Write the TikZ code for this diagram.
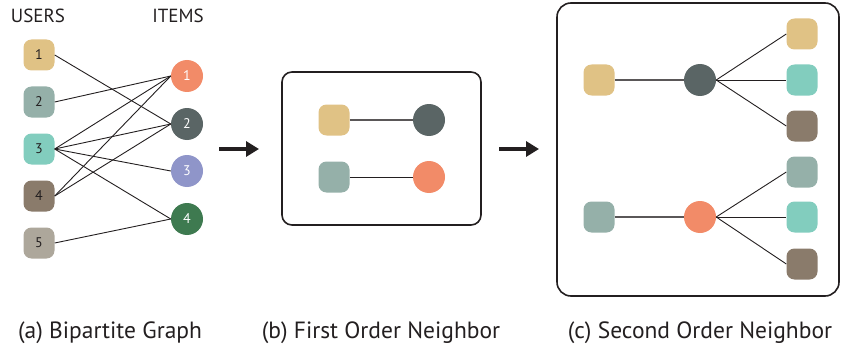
\documentclass[tikz,border=0pt]{standalone}
\usepackage{fontspec}
\setmainfont{PT Sans}
\usetikzlibrary{arrows.meta}
\definecolor{uTan}{HTML}{E0C285}
\definecolor{uSage}{HTML}{95B0A9}
\definecolor{uMint}{HTML}{82CDBE}
\definecolor{uBrown}{HTML}{8A7B6B}
\definecolor{uStone}{HTML}{ADA79B}
\definecolor{iSalmon}{HTML}{F28B68}
\definecolor{iSlate}{HTML}{5A6565}
\definecolor{iLavender}{HTML}{8F95C9}
\definecolor{iGreen}{HTML}{3E7A50}
\definecolor{ink}{HTML}{231F20}
\tikzset{
  user/.style={rectangle, rounded corners=8pt, minimum width=31pt, minimum height=31pt,
    inner sep=0pt, fill=#1, draw=none, text=ink, font=\fontsize{14}{14}\selectfont},
  item/.style={circle, minimum size=32pt, inner sep=0pt, fill=#1, draw=none,
    text=white, font=\fontsize{14}{14}\selectfont},
  edge/.style={draw=ink, line width=0.9pt},
  greyedge/.style={draw=ink!75, line width=1.3pt},
  panel/.style={draw=ink, line width=1.6pt, rounded corners=#1},
  bigarrow/.style={draw=ink, line width=4pt, -{Triangle[length=13pt,width=15pt]}},
  caption/.style={font=\fontsize{23.5}{23.5}\selectfont, text=ink, inner sep=0pt},
  heading/.style={font=\fontsize{19}{19}\selectfont, text=ink, inner sep=0pt}
}
\begin{document}
\begin{tikzpicture}[x=1pt, y=-1pt]
\useasboundingbox (0,0) rectangle (841,353);

% (a) bipartite graph
\node[heading] (uhead) at (38,16) {USERS};
\node[heading] (ihead) at (178,16) {ITEMS};
\node[user=uTan]   (u1) at (39,55)  {1};
\node[user=uSage]  (u2) at (39,102) {2};
\node[user=uMint]  (u3) at (39,149) {3};
\node[user=uBrown] (u4) at (39,196) {4};
\node[user=uStone] (u5) at (39,243) {5};
\node[item=iSalmon]   (i1) at (187,76)  {1};
\node[item=iSlate]    (i2) at (187,124) {2};
\node[item=iLavender] (i3) at (187,171) {3};
\node[item=iGreen]    (i4) at (187,219) {4};
\foreach \u/\i in {u1/i2, u2/i1, u3/i1, u3/i2, u3/i3, u3/i4, u4/i1, u4/i2, u5/i4}
  \draw[edge] (\u.east) -- (\i.west);

% arrows between panels
\coordinate (a1s) at (219,149);
\coordinate (a1e) at (259,149);
\coordinate (a2s) at (499,149);
\coordinate (a2e) at (539,149);
\draw[bigarrow] (a1s) -- (a1e);
\draw[bigarrow] (a2s) -- (a2e);

% (b) first order neighbours
\draw[panel=10pt] (282,72) rectangle (481,225);
\node[user=uTan]  (b1u) at (334,120) {};
\node[item=iSlate] (b1i) at (429,120) {};
\node[user=uSage] (b2u) at (334,177) {};
\node[item=iSalmon] (b2i) at (429,177) {};
\draw[greyedge] (b1u.east) -- (b1i.west);
\draw[edge] (b2u.east) -- (b2i.west);

% (c) second order neighbours
\draw[panel=14pt] (557,3) rectangle (839,296);
\node[user=uTan]  (c1u) at (599,80) {};
\node[item=iSlate] (c1i) at (700,80) {};
\node[user=uTan]   (c1a) at (802,34) {};
\node[user=uMint]  (c1b) at (802,80) {};
\node[user=uBrown] (c1c) at (802,126) {};
\node[user=uSage] (c2u) at (599,217) {};
\node[item=iSalmon] (c2i) at (700,217) {};
\node[user=uSage]  (c2a) at (802,172) {};
\node[user=uMint]  (c2b) at (802,217) {};
\node[user=uBrown] (c2c) at (802,264) {};
\draw[greyedge] (c1u.east) -- (c1i.west);
\draw[greyedge] (c2u.east) -- (c2i.west);
\foreach \t in {c1a, c1b, c1c} \draw[edge] (c1i.east) -- (\t.west);
\foreach \t in {c2a, c2b, c2c} \draw[edge] (c2i.east) -- (\t.west);

% captions
\node[caption] (capa) at (110,333) {(a) Bipartite Graph};
\node[caption] (capb) at (381,333) {(b) First Order Neighbor};
\node[caption] (capc) at (700,333) {(c) Second Order Neighbor};
\end{tikzpicture}
\end{document}
